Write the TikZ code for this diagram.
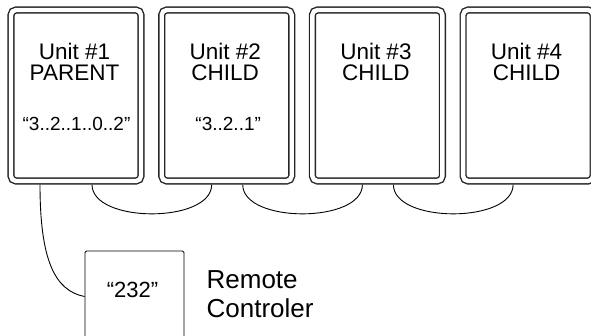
\documentclass[tikz,border=0pt]{standalone}
\usepackage{fontspec}
\setmainfont{Liberation Sans}
\usetikzlibrary{calc}

\tikzset{
  unitbox/.style={draw=black!85, line width=1.4pt, double=white, double distance=4.4pt,
    rounded corners=5pt, minimum width=130pt, minimum height=171pt, inner sep=0pt, outer sep=3.6pt},
  cable/.style={line width=0.9pt},
  headtxt/.style={anchor=base, inner sep=0pt, font=\fontsize{22.5}{22.5}\selectfont},
  counttxt/.style={anchor=base, inner sep=0pt, font=\fontsize{19}{19}\selectfont},
}

\begin{document}
\begin{tikzpicture}[x=1pt, y=-1pt]
    \useasboundingbox (0,0) rectangle (591,335);
    \clip (0,0) rectangle (591,335);
    % the four units
    \foreach \i/\role in {1/PARENT, 2/CHILD, 3/CHILD, 4/CHILD} {
        \node[unitbox] (u\i) at ({76+150.7*(\i-1)},95.5) {};
        \node[headtxt] (h\i) at ($(u\i)+(-1.5,-36.5)$) {Unit \#\i};
        \node[headtxt] (r\i) at ($(u\i)+(-1.5,-15.5)$) {\role};
    }
    \node[counttxt] (c1) at ($(u1)+(0.5,34.5)$) {“3..2..1..0..2”};
    \node[counttxt] (c2) at ($(u2)+(1.5,34.5)$) {“3..2..1”};
    % links between the units
    \foreach \a/\b in {1/2, 2/3, 3/4}
        \draw[cable] ([xshift=16pt]u\a.south) .. controls +(0,39) and +(0,39) .. ([xshift=-15pt]u\b.south);
    % remote controller
    \node[draw, line width=0.9pt, rounded corners=1.5pt, minimum width=99pt, minimum height=100pt, inner sep=0pt] (rc) at (134.5,301) {};
    \node[anchor=base, inner sep=0pt, font=\fontsize{22}{22}\selectfont] (rcode) at ($(rc.north)+(-2,47)$) {“232”};
    \node[anchor=north west, inner sep=0pt, align=left, font=\fontsize{26}{29}\selectfont] (rlabel) at ($(rc.north east)+(22,20)$) {Remote\\Controler};
    \draw[cable] ([xshift=-36pt]u1.south) .. controls +(0,75) and +(-30,-6) .. ([yshift=-46pt]rc.north west);
\end{tikzpicture}
\end{document}
